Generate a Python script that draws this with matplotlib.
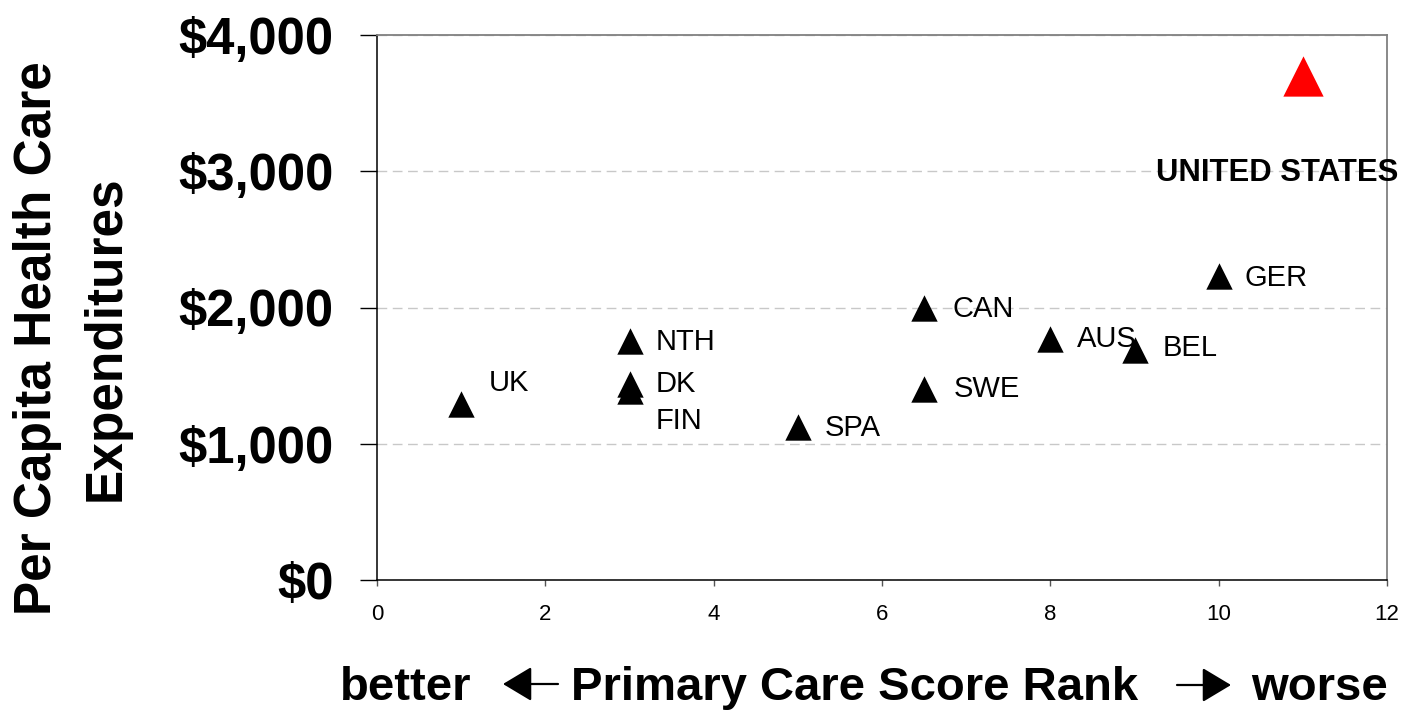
"""
Per capita health care spending vs. primary care score rank, by country.
"""

import matplotlib

matplotlib.use("Agg")
import matplotlib.pyplot as plt

plt.rcParams["font.family"] = ["Liberation Sans", "DejaVu Sans"]

# --- data ---
countries = ["UK", "NTH", "DK", "FIN", "SPA", "CAN", "SWE", "AUS", "BEL", "GER", "UNITED STATES"]
rank = [1, 3, 3, 3, 5, 6.5, 6.5, 8, 9, 10, 11]
spending = [1295, 1754, 1439, 1387, 1123, 1996, 1402, 1769, 1690, 2231, 3699]
highlight = "UNITED STATES"
yticks = [0, 1000, 2000, 3000, 4000]
xticks = [0, 2, 4, 6, 8, 10, 12]

# label placement (pixel offsets from marker centre to text baseline-left)
LABEL_OFFSETS = {
    "UK": (28, 13), "NTH": (26, -9), "DK": (26, -8.5), "FIN": (26, -37.5),
    "SPA": (27, -9), "CAN": (28, -8.5), "SWE": (30, -8.5), "AUS": (27, -8.5),
    "BEL": (28, -6.5), "GER": (26, -9.5), "UNITED STATES": (-147, -104.5),
}

W, H = 1401, 711
fig = plt.figure(figsize=(W / 100, H / 100), dpi=100)
ax = fig.add_axes([377 / W, 1 - 580 / H, (1387 - 377) / W, (580 - 35) / H])

for name, x, y in zip(countries, rank, spending):
    us = name == highlight
    ax.scatter(x, y, marker="^", s=(29 if us else 19) ** 2,
               color="#ff0000" if us else "black", linewidths=0, zorder=3)
    dx, dy = LABEL_OFFSETS[name]
    ax.annotate(name, (x, y), xytext=(dx, dy), textcoords="offset pixels",
                ha="left", va="baseline", fontsize=22.3 if us else 21,
                fontweight="bold" if us else "normal", zorder=4,
                annotation_clip=False)

ax.set_xlim(0, 12)
ax.set_ylim(0, 4000)
ax.set_xticks(xticks)
ax.set_yticks(yticks)
ax.set_yticklabels([f"${v:,.0f}" for v in yticks], fontsize=36.5, fontweight="bold")
ax.set_xticklabels([str(v) for v in xticks], fontsize=16)

ax.tick_params(axis="y", direction="out", length=12, width=1, pad=19, color="black")
ax.tick_params(axis="x", direction="out", length=4.3, width=1, pad=13, color="#555555")

ax.grid(axis="y", color="#c8c8c8", linestyle=(0, (7, 4)), linewidth=1)
ax.set_axisbelow(True)
for side in ("left", "bottom"):
    ax.spines[side].set_color("black")
    ax.spines[side].set_linewidth(1.1)
for side in ("top", "right"):
    ax.spines[side].set_color("#808080")
    ax.spines[side].set_linewidth(1.3)

# y-axis title (two lines)
fig.text(72 / W, 1 - 338 / H, "Per Capita Health Care\nExpenditures", rotation=90,
         ha="center", va="center", multialignment="center", fontsize=37,
         fontweight="bold", linespacing=1.5)

# x-axis title with direction arrows
base = 11 / H
fig.text(340 / W, base, "better", ha="left", va="baseline", fontsize=34, fontweight="bold")
fig.text(855 / W, base, "Primary Care Score Rank", ha="center", va="baseline",
         fontsize=34, fontweight="bold")
fig.text(1388 / W, base, "worse", ha="right", va="baseline", fontsize=34, fontweight="bold")

arrow = dict(arrowstyle="-|>,head_length=1.0,head_width=0.6", color="black", lw=1.6,
             mutation_scale=18, shrinkA=0, shrinkB=0)
ax.annotate("", xy=(503, H - 684), xytext=(558, H - 684), xycoords="figure pixels",
            textcoords="figure pixels", arrowprops=arrow)
ax.annotate("", xy=(1231, H - 685), xytext=(1177, H - 685), xycoords="figure pixels",
            textcoords="figure pixels", arrowprops=arrow)

fig.savefig("out.png", dpi=100)
plt.close(fig)
